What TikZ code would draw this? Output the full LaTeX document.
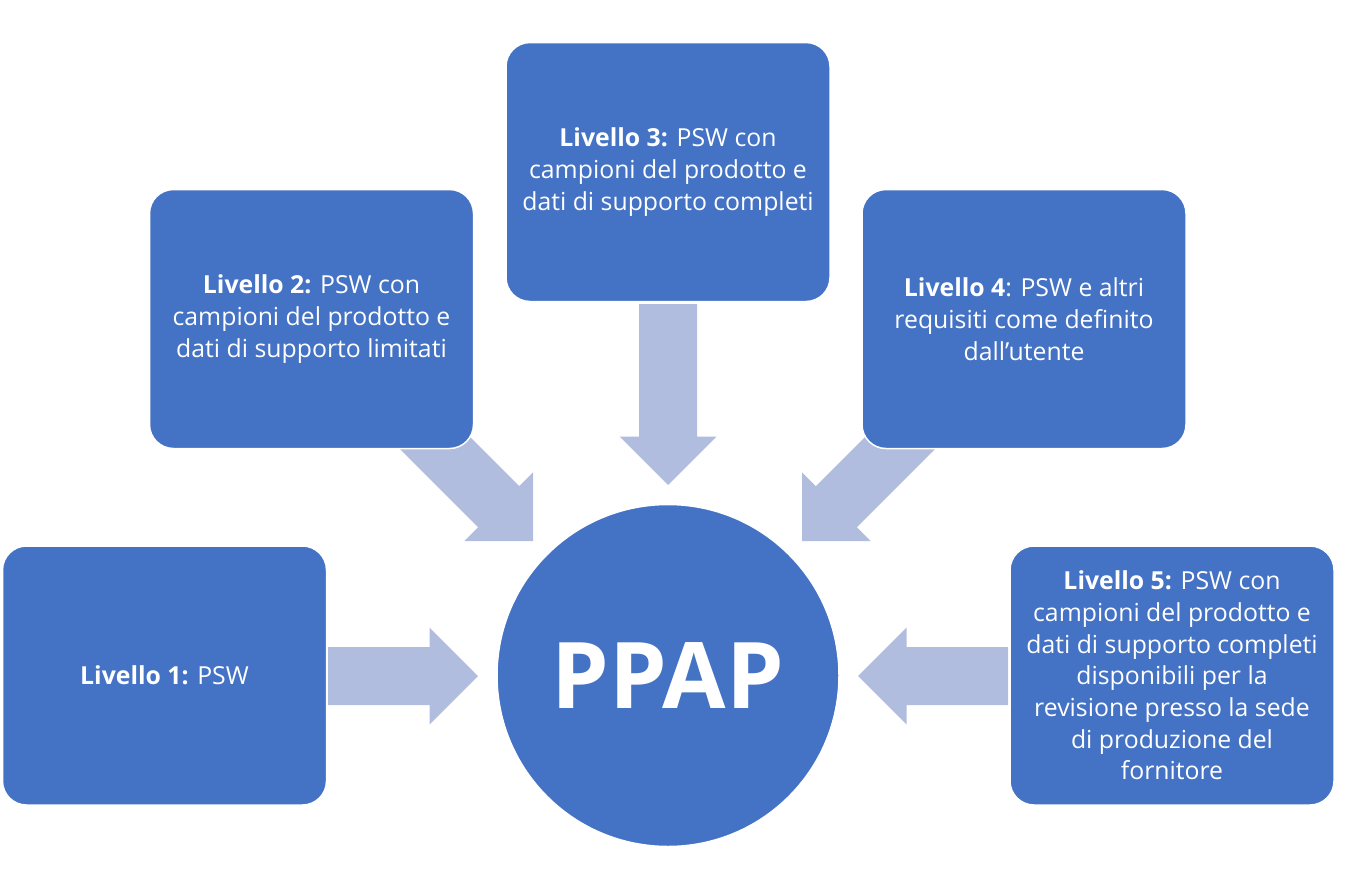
\documentclass[tikz,border=0pt]{standalone}
\usepackage{fontspec}
\setmainfont{Open Sans}
\usetikzlibrary{backgrounds}
\definecolor{boxblue}{HTML}{4472C4}
\definecolor{arrowfill}{HTML}{B0BDDF}
\newcommand{\blockarr}[3]{\fill[blk,shift={#1},rotate=#2] (0,0) -- (-48.5,-48.5) -- (-48.5,-29) -- (-#3,-29) -- (-#3,29) -- (-48.5,29) -- (-48.5,48.5) -- cycle;}
\begin{document}
\begin{tikzpicture}[x=1pt,y=-1pt,
  lvl/.style={draw=white, line width=1.5pt, fill=boxblue, rounded corners=24pt,
    minimum width=324pt, minimum height=259pt, text=white, align=center,
    font=\fontsize{24.8}{31.7}\selectfont, inner sep=0pt},
  hub/.style={circle, fill=boxblue, draw=white, line width=1.5pt, minimum size=342pt,
    text=white, font=\fontsize{92}{110}\selectfont\bfseries, inner sep=0pt},
  blk/.style={fill=arrowfill}]
\useasboundingbox (0,0) rectangle (1346,889);
% nodes
\node[hub] (ppap) at (668,675.5) {PPAP};
\node[lvl] (l1) at (164.5,675.5) {\textbf{Livello 1:} PSW};
\node[lvl] (l2) at (311.5,319) {\textbf{Livello 2:} PSW con\\campioni del prodotto e\\dati di supporto limitati};
\node[lvl] (l3) at (668,172) {\textbf{Livello 3:} PSW con\\campioni del prodotto e\\dati di supporto completi};
\node[lvl] (l4) at (1024,319) {\textbf{Livello 4}: PSW e altri\\requisiti come definito\\dall’utente};
\node[lvl] (l5) at (1172,675.5) {\textbf{Livello 5:} PSW con\\campioni del prodotto e\\dati di supporto completi\\disponibili per la\\revisione presso la sede\\di produzione del\\fornitore};
% block arrows behind the nodes
\begin{scope}[on background layer]
\blockarr{(478,676)}{0}{150}
\blockarr{(858,676)}{180}{150}
\blockarr{(668,485)}{-90}{181}
\blockarr{(533,541)}{-45}{170}
\blockarr{(802,541)}{-135}{170}
\end{scope}
\end{tikzpicture}
\end{document}
